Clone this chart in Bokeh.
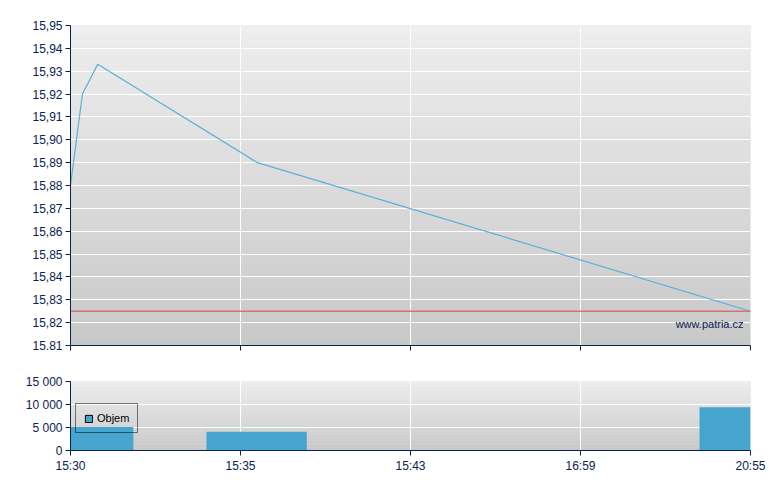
from bokeh.plotting import figure
from bokeh.models import (Range1d, FixedTicker, CustomJSTickFormatter, Span, Label,
                          BoxAnnotation, Legend, LegendItem, ColumnDataSource)
from bokeh.layouts import column
from bokeh.embed import file_html
from bokeh.resources import INLINE

# ---- data ----
time_labels = ["15:30", "15:35", "15:43", "16:59", "20:55"]
time_ticks = [0, 1, 2, 3, 4]
price_x = [0.0, 0.07, 0.16, 1.1, 4.0]
price = [15.88, 15.92, 15.933, 15.89, 15.825]
prev_close = 15.825
price_ticks = [15.81, 15.82, 15.83, 15.84, 15.85, 15.86, 15.87, 15.88,
               15.89, 15.90, 15.91, 15.92, 15.93, 15.94, 15.95]
vol_left = [0.0, 0.8, 3.7]
vol_right = [0.37, 1.39, 4.0]
volume = [5100, 4100, 9400]
vol_ticks = [0, 5000, 10000, 15000]

FONT = "Liberation Sans"
NAVY = "#0B2250"
BLUE_LINE = "#5BB0D9"
BAR = "#46A5CF"


def add_gradient(p, y0, y1, n=48):
    step = (y1 - y0) / n
    for i in range(n):
        b = y0 + i * step
        t = b + step * 1.05
        frac = (i + 0.5) / n  # 0 bottom -> 1 top
        v = int(round(200 + (238 - 200) * frac))
        col = "#%02x%02x%02x" % (v, v, v)
        p.add_layout(BoxAnnotation(bottom=b, top=min(t, y1), fill_color=col, fill_alpha=1,
                                   line_color=None, level="image"))


def style_axes(p):
    for ax in (p.xaxis[0], p.yaxis[0]):
        ax.axis_line_color = NAVY
        ax.axis_line_width = 1
        ax.major_tick_line_color = NAVY
        ax.major_tick_out = 5
        ax.major_tick_in = 0
        ax.minor_tick_line_color = None
        ax.major_label_text_font = FONT
        ax.major_label_text_font_size = "12px"
        ax.major_label_text_color = NAVY
        ax.major_label_standoff = 3
    p.xgrid.grid_line_color = "white"
    p.ygrid.grid_line_color = "white"
    p.xgrid.grid_line_width = 1
    p.ygrid.grid_line_width = 1
    p.outline_line_color = None
    p.background_fill_color = "#dcdcdc"
    p.border_fill_color = "white"


x_fmt = CustomJSTickFormatter(args=dict(labels=time_labels),
                              code="return labels[Math.round(tick)] || '';")

# ---- price chart ----
p1 = figure(width=772, height=361, output_backend="svg", toolbar_location=None,
            x_range=Range1d(0, 4), y_range=Range1d(15.81, 15.95),
            min_border_left=70, min_border_right=22, min_border_top=25, min_border_bottom=16)
style_axes(p1)
add_gradient(p1, 15.81, 15.95)
p1.xaxis.ticker = FixedTicker(ticks=time_ticks)
p1.xgrid.ticker = FixedTicker(ticks=time_ticks)
p1.xaxis.formatter = CustomJSTickFormatter(code="return '';")
p1.xaxis.major_label_text_font_size = "0px"
p1.xaxis.major_label_standoff = 0
p1.yaxis.ticker = FixedTicker(ticks=price_ticks)
p1.ygrid.ticker = FixedTicker(ticks=price_ticks)
p1.yaxis.formatter = CustomJSTickFormatter(
    code="var s = tick.toFixed(2); return tick < 15.815 ? s : s.replace('.', ',');")

p1.add_layout(Span(location=prev_close, dimension="width", line_color="#D06868",
                   line_width=1.6, line_alpha=0.9))
p1.line(price_x, price, line_color=BLUE_LINE, line_width=1.2)
p1.add_layout(Label(x=4, y=15.8196, text="www.patria.cz", text_align="right",
                    text_baseline="middle", x_offset=-7, text_font=FONT,
                    text_font_size="11px", text_color=NAVY))

# ---- volume chart ----
p2 = figure(width=772, height=115, output_backend="svg", toolbar_location=None,
            x_range=p1.x_range, y_range=Range1d(0, 15000),
            min_border_left=70, min_border_right=22, min_border_top=20, min_border_bottom=26)
p2.extra_y_ranges = {"legend_only": Range1d(-20000, -10000)}
style_axes(p2)
add_gradient(p2, 0, 15000)
p2.xaxis.ticker = FixedTicker(ticks=time_ticks)
p2.xgrid.ticker = FixedTicker(ticks=time_ticks)
p2.xaxis.formatter = x_fmt
p2.yaxis.ticker = FixedTicker(ticks=vol_ticks)
p2.ygrid.ticker = FixedTicker(ticks=vol_ticks)
p2.yaxis.formatter = CustomJSTickFormatter(
    code="return String(Math.round(tick)).replace(/\\B(?=(\\d{3})+(?!\\d))/g, ' ');")

src = ColumnDataSource(dict(left=vol_left, right=vol_right, top=volume, bottom=[0] * len(volume)))
p2.quad(left="left", right="right", top="top", bottom="bottom", source=src,
        fill_color=BAR, line_color=None)
# same data on an off-screen range: only used to draw the outlined legend swatch
swatch = p2.quad(left="left", right="right", top="top", bottom="bottom", source=src,
                 y_range_name="legend_only", fill_color=BAR, line_color="black")
leg = Legend(items=[LegendItem(label="Objem", renderers=[swatch])], location=(5, 17),
             border_line_color="black", border_line_width=1, background_fill_alpha=0,
             label_text_font=FONT, label_text_font_size="11px", label_text_color="black",
             glyph_width=9, glyph_height=9, label_height=12, label_standoff=4,
             padding=8, margin=0, spacing=0)
p2.add_layout(leg)

layout = column(p1, p2, spacing=0)
open("out.html", "w").write(file_html(layout, INLINE))
